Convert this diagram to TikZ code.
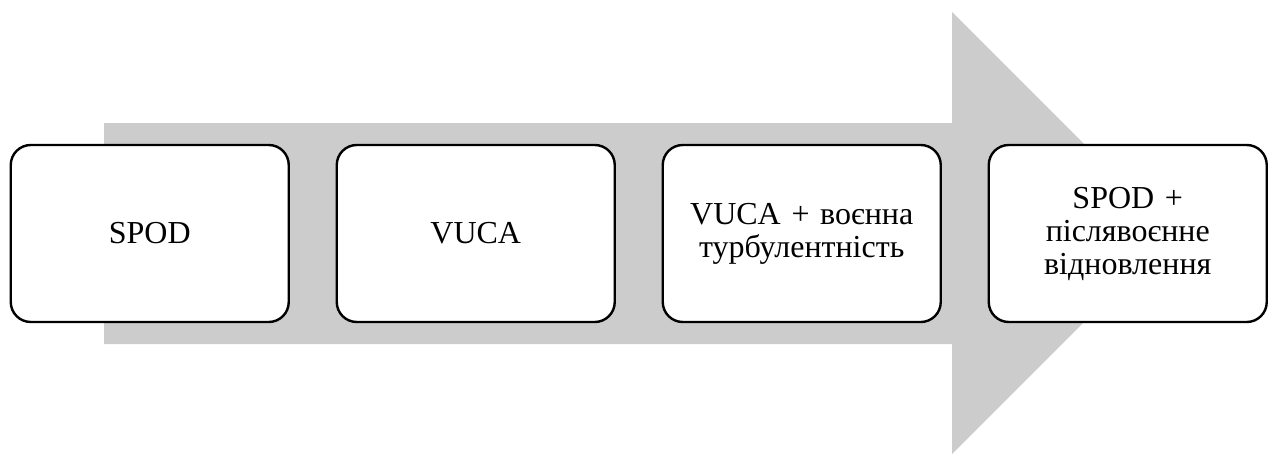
\documentclass[tikz,border=0pt]{standalone}
\usepackage{fontspec}
\setmainfont{Liberation Serif}
\definecolor{arrowgray}{RGB}{204,204,204}
\begin{document}
\begin{tikzpicture}[x=1pt,y=-1pt,
  stage/.style={draw=black, line width=2.4pt, fill=white,
    rounded corners=20pt, minimum width=278pt, minimum height=177pt,
    inner sep=0pt, text width=260pt, align=center,
    font=\fontsize{32}{33}\selectfont}]
\useasboundingbox (0,0) rectangle (1269,453);
% broad block arrow behind the stages
\fill[arrowgray] (104,123) -- (952,123) -- (952,12) -- (1173,233)
  -- (952,454) -- (952,344) -- (104,344) -- cycle;
% stages
\node[stage] (s1) at (149.75,233.5) {SPOD};
\node[stage] (s2) at (475.75,233.5) {VUCA};
\node[stage] (s3) at (801.75,233.5) {VUCA + воєнна\\турбулентність};
\node[stage] (s4) at (1127.75,233.5) {SPOD +\\післявоєнне\\відновлення};
\end{tikzpicture}
\end{document}
